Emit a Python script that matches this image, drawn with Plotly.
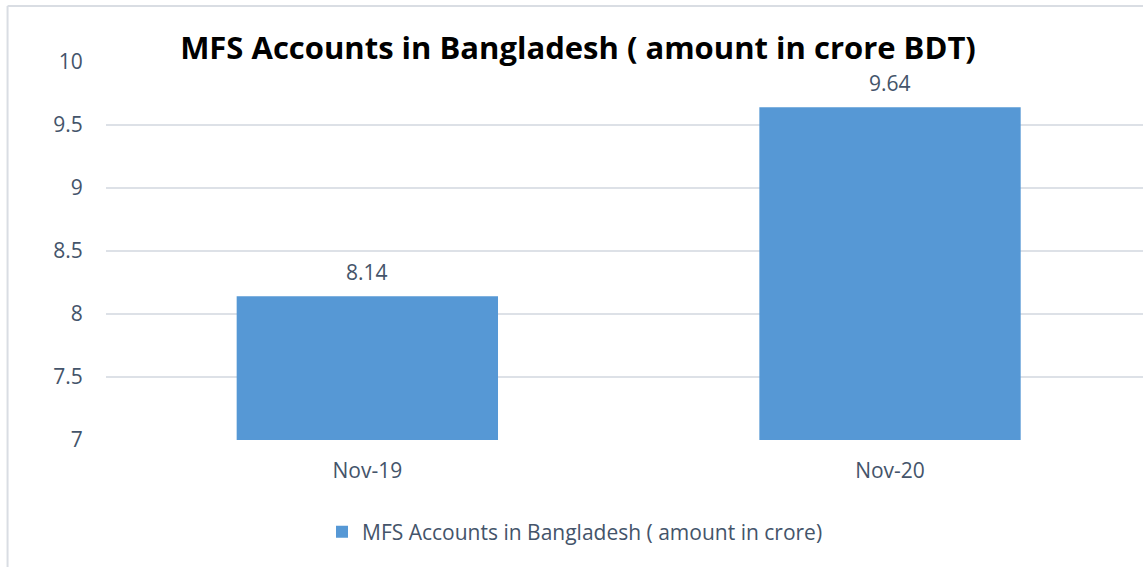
import plotly.graph_objects as go

categories = ["Nov-19", "Nov-20"]
values = [8.14, 9.64]
value_labels = ["8.14", "9.64"]
y_ticks = [7, 7.5, 8, 8.5, 9, 9.5, 10]
y_tick_labels = ["7", "7.5", "8", "8.5", "9", "9.5", "10"]
series_name = "MFS Accounts in Bangladesh ( amount in crore)"
title_text = "MFS Accounts in Bangladesh ( amount in crore BDT)"

W, H = 1143, 567
L, R, T, B = 105.5, 0, 62, 127
text_color = "#44546A"
font_family = "Open Sans"
fs = 21

fig = go.Figure()
fig.add_trace(go.Bar(
    x=[0, 1],
    y=values,
    base=0,
    width=0.5,
    name=series_name,
    marker=dict(color="#5698D5", line=dict(width=0)),
    cliponaxis=False,
    showlegend=True,
    hoverinfo="skip",
))

for xi, (v, lab) in enumerate(zip(values, value_labels)):
    fig.add_annotation(
        x=xi, y=v, xref="x", yref="y",
        text=lab, showarrow=False,
        yanchor="middle", yshift=24,
        font=dict(family=font_family, size=fs, color=text_color),
    )

fig.update_layout(
    width=W, height=H,
    margin=dict(l=L, r=R, t=T, b=B, pad=0),
    paper_bgcolor="white",
    plot_bgcolor="white",
    font=dict(family=font_family, color=text_color),
    title=dict(
        text="<b>" + title_text + "</b>",
        font=dict(family=font_family, size=31, color="black"),
        x=578 / W, xref="container", xanchor="center",
        y=1 - 48 / H, yref="container", yanchor="middle",
    ),
    xaxis=dict(
        range=[-0.5, 1.484],
        tickmode="array",
        tickvals=[0, 1],
        ticktext=categories,
        tickfont=dict(family=font_family, size=fs, color=text_color),
        showgrid=False,
        zeroline=False,
        showline=False,
        ticks="outside", ticklen=12, tickcolor="rgba(0,0,0,0)",
    ),
    yaxis=dict(
        range=[7, 10],
        tickmode="array",
        tickvals=y_ticks,
        ticktext=y_tick_labels,
        tickfont=dict(family=font_family, size=fs, color=text_color),
        showgrid=True,
        gridcolor="#DDE1E7",
        gridwidth=1.5,
        zeroline=False,
        showline=False,
        ticks="outside", ticklen=18, tickcolor="rgba(0,0,0,0)",
    ),
    legend=dict(
        orientation="h",
        x=575 / W, xref="container", xanchor="center",
        y=1 - 532 / H, yref="container", yanchor="middle",
        font=dict(family=font_family, size=fs, color=text_color),
        itemsizing="constant",
        itemwidth=30,
    ),
    bargap=0.5,
    shapes=[
        dict(type="line", xref="paper", yref="paper",
             x0=-(L - 7) / (W - L - R), x1=-(L - 7) / (W - L - R),
             y0=(H - B - 6) / (H - T - B), y1=-B / (H - T - B),
             line=dict(color="#D9DDE3", width=2)),
        dict(type="line", xref="paper", yref="paper",
             x0=-(L - 7) / (W - L - R), x1=1.0,
             y0=(H - B - 6) / (H - T - B), y1=(H - B - 6) / (H - T - B),
             line=dict(color="#D9DDE3", width=2)),
    ],
)

fig.write_html("out.html", config={"displayModeBar": False},
               post_script="document.body.style.margin='0';")
